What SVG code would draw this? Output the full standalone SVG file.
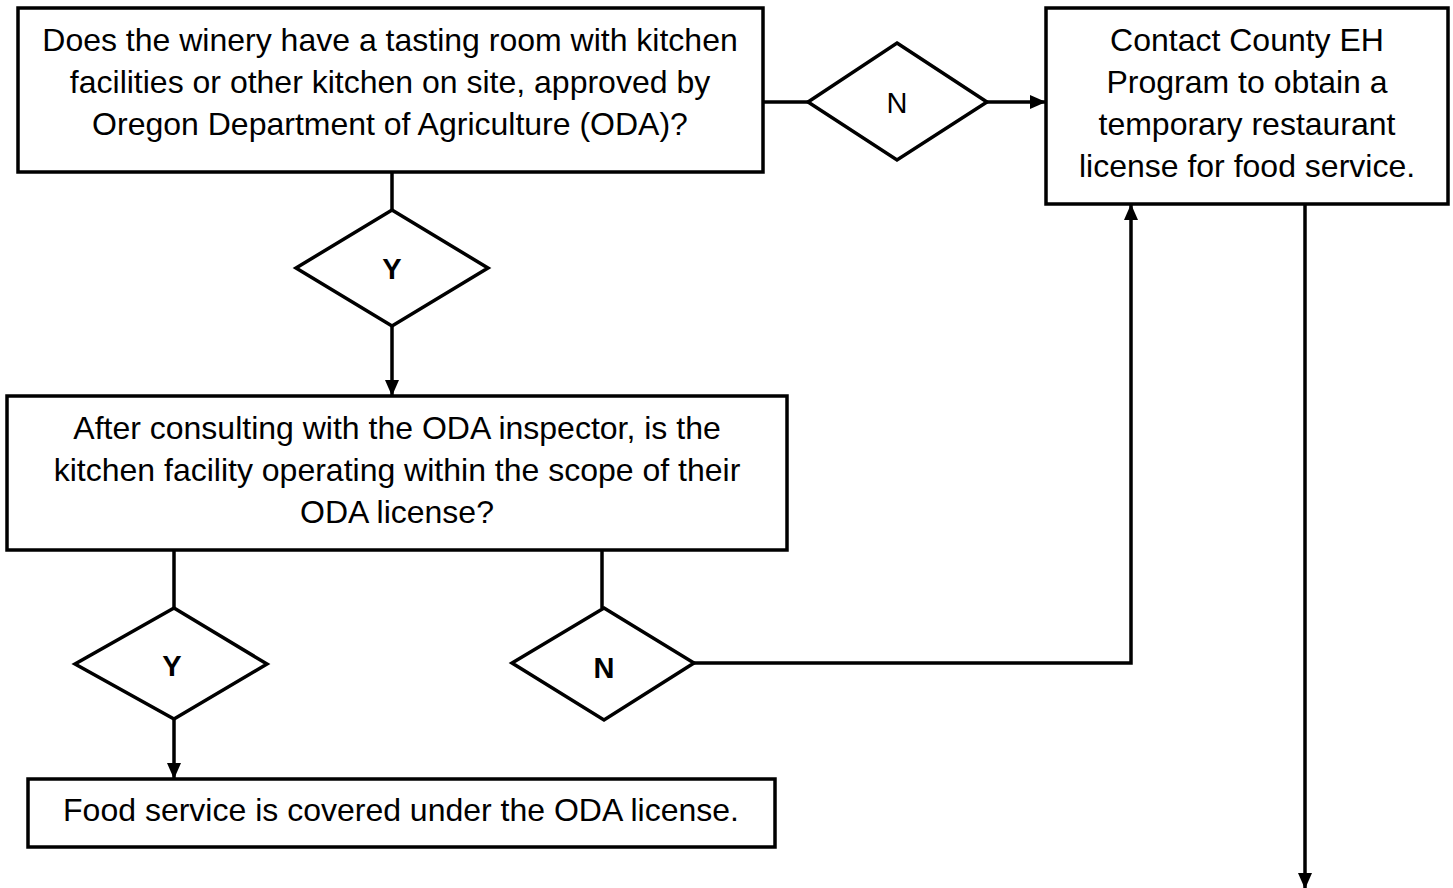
<svg xmlns="http://www.w3.org/2000/svg" width="1453" height="888" viewBox="0 0 1453 888">
<defs>
<marker id="ah" markerWidth="16" markerHeight="16" refX="15" refY="8" orient="auto" markerUnits="userSpaceOnUse" viewBox="0 0 16 16">
<path d="M0,1 L16,8 L0,15 z" fill="#000"/>
</marker>
<style>
.box{fill:#fff;stroke:#000;stroke-width:3.5}
.dia{fill:#fff;stroke:#000;stroke-width:3.5}
.t{font-family:"Liberation Sans",Arial,sans-serif;font-size:32px;fill:#000;text-anchor:middle}
.d{font-family:"Liberation Sans",Arial,sans-serif;font-size:29px;fill:#000;text-anchor:middle}
.b{font-weight:bold}
.c{fill:none;stroke:#000;stroke-width:3.5}
</style>
</defs>
<rect width="1453" height="888" fill="#fff"/>
<g id="connectors">
<path class="c" d="M763,102 L808,102"/>
<path class="c" d="M987,102 L1045,102" marker-end="url(#ah)"/>
<path class="c" d="M392,172 L392,210"/>
<path class="c" d="M392,326 L392,395" marker-end="url(#ah)"/>
<path class="c" d="M174,550 L174,608"/>
<path class="c" d="M174,719 L174,778" marker-end="url(#ah)"/>
<path class="c" d="M602,550 L602,608"/>
<path class="c" d="M694,663 L1131,663 L1131,205" marker-end="url(#ah)"/>
<path class="c" d="M1305,204 L1305,888" marker-end="url(#ah)"/>
</g>
<g id="q1">
<rect class="box" x="18" y="8" width="745" height="164"/>
<text class="t" x="390" y="51">Does the winery have a tasting room with kitchen</text>
<text class="t" x="390" y="93">facilities or other kitchen on site, approved by</text>
<text class="t" x="390" y="135">Oregon Department of Agriculture (ODA)?</text>
</g>
<g id="dN1">
<polygon class="dia" points="897,43 987,102 897,160 808,102"/>
<text class="d" x="897" y="113">N</text>
</g>
<g id="contact">
<rect class="box" x="1046" y="8" width="402" height="196"/>
<text class="t" x="1247" y="51">Contact County EH</text>
<text class="t" x="1247" y="93">Program to obtain a</text>
<text class="t" x="1247" y="135">temporary restaurant</text>
<text class="t" x="1247" y="177">license for food service.</text>
</g>
<g id="dY1">
<polygon class="dia" points="392,210 488,268 392,326 296,268"/>
<text class="d b" x="392" y="279">Y</text>
</g>
<g id="q2">
<rect class="box" x="7" y="396" width="780" height="154"/>
<text class="t" x="397" y="439">After consulting with the ODA inspector, is the</text>
<text class="t" x="397" y="481">kitchen facility operating within the scope of their</text>
<text class="t" x="397" y="523">ODA license?</text>
</g>
<g id="dY2">
<polygon class="dia" points="174,608 267,664 174,719 75,664"/>
<text class="d b" x="172" y="676">Y</text>
</g>
<g id="dN2">
<polygon class="dia" points="604,608 694,663 604,720 512,663"/>
<text class="d b" x="604" y="678">N</text>
</g>
<g id="covered">
<rect class="box" x="28" y="779" width="747" height="68"/>
<text class="t" x="401" y="821">Food service is covered under the ODA license.</text>
</g>
</svg>
